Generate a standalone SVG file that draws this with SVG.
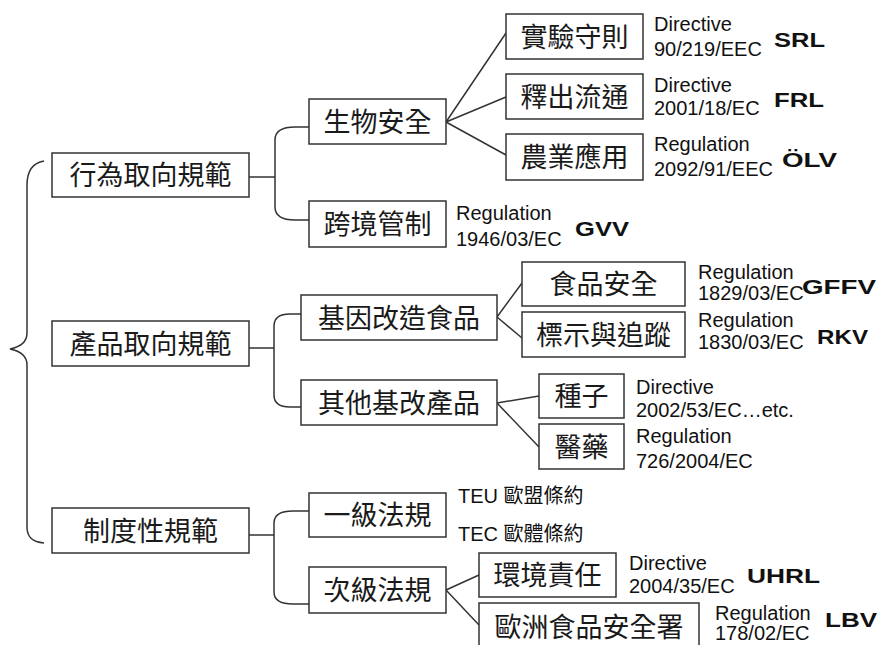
<svg xmlns="http://www.w3.org/2000/svg" width="882" height="645" viewBox="0 0 882 645">
<style>
.box rect{fill:#fff;stroke:#333;stroke-width:1.5}
.cjk{font-family:"Noto Sans CJK TC","Noto Sans CJK SC",sans-serif;font-size:27px;fill:#1a1a1a;text-anchor:middle}
.lat{font-family:"Liberation Sans",Arial,"Noto Sans CJK TC",sans-serif;font-size:20px;fill:#111}
.bold{font-family:"Liberation Sans",Arial,sans-serif;font-size:21px;font-weight:bold;fill:#111}
.conn path{fill:none;stroke:#333;stroke-width:1.5}
</style>
<rect width="882" height="645" fill="#fff"/>
<g id="connectors" class="conn">
<path d="M44,161 C32,163 27,172 27,185 L27,333 C27,342 20,347 10,349 C20,351 27,356 27,365 L27,527 C27,537 32,542 44,543"/>
<path d="M249,177 H275"/>
<path d="M309,127 H295 Q275,127 275,140 V207 Q275,220 295,220 H309"/>
<path d="M249,348 H274"/>
<path d="M301,314 H290 Q274,314 274,326 V395 Q274,407 290,407 H301"/>
<path d="M249,535 H274"/>
<path d="M309,511 H293 Q274,511 274,523 V592 Q274,604 293,604 H309"/>
<path d="M446,122 L506,33 M446,122 L506,97 M446,122 L506,155"/>
<path d="M497,317 L522,283 M497,317 L522,338"/>
<path d="M497,403 L539,396 M497,403 L539,447"/>
<path d="M446,590 L479,575 M446,590 L479,625"/>
</g>
<g id="n1" class="box"><rect x="52" y="153" width="197" height="44"/><text class="cjk" x="150.5" y="185">行為取向規範</text></g>
<g id="n2" class="box"><rect x="52" y="321" width="197" height="45"/><text class="cjk" x="150.5" y="353.5">產品取向規範</text></g>
<g id="n3" class="box"><rect x="52" y="508" width="197" height="45"/><text class="cjk" x="150.5" y="540.5">制度性規範</text></g>
<g id="n11" class="box"><rect x="309" y="99" width="137" height="45"/><text class="cjk" x="377.5" y="131.5">生物安全</text></g>
<g id="n12" class="box"><rect x="309" y="201" width="137" height="46"/><text class="cjk" x="377.5" y="234">跨境管制</text></g>
<g id="n21" class="box"><rect x="301" y="295" width="196" height="45"/><text class="cjk" x="399" y="327.5">基因改造食品</text></g>
<g id="n22" class="box"><rect x="301" y="380" width="196" height="45"/><text class="cjk" x="399" y="412.5">其他基改產品</text></g>
<g id="n31" class="box"><rect x="309" y="493" width="137" height="44"/><text class="cjk" x="377.5" y="525">一級法規</text></g>
<g id="n32" class="box"><rect x="309" y="567" width="137" height="46"/><text class="cjk" x="377.5" y="600">次級法規</text></g>
<g id="n111" class="box"><rect x="506" y="14" width="137" height="45"/><text class="cjk" x="574.5" y="46.5">實驗守則</text></g>
<g id="n112" class="box"><rect x="506" y="74" width="137" height="45"/><text class="cjk" x="574.5" y="106.5">釋出流通</text></g>
<g id="n113" class="box"><rect x="506" y="134" width="137" height="46"/><text class="cjk" x="574.5" y="167">農業應用</text></g>
<g id="n211" class="box"><rect x="522" y="262" width="163" height="44"/><text class="cjk" x="603.5" y="294">食品安全</text></g>
<g id="n212" class="box"><rect x="522" y="312" width="163" height="45"/><text class="cjk" x="603.5" y="344.5">標示與追蹤</text></g>
<g id="n221" class="box"><rect x="539" y="374" width="85" height="44"/><text class="cjk" x="581.5" y="406">種子</text></g>
<g id="n222" class="box"><rect x="539" y="424" width="85" height="45"/><text class="cjk" x="581.5" y="456.5">醫藥</text></g>
<g id="n321" class="box"><rect x="479" y="553" width="137" height="44"/><text class="cjk" x="547.5" y="585">環境責任</text></g>
<g id="n322" class="box"><rect x="479" y="603" width="220" height="48"/><text class="cjk" x="589" y="637">歐洲食品安全署</text></g>
<g id="labels">
<text class="lat" x="654" y="31">Directive</text><text class="lat" x="654" y="56">90/219/EEC</text><text class="bold" x="774" y="47" textLength="51" lengthAdjust="spacingAndGlyphs">SRL</text>
<text class="lat" x="654" y="92">Directive</text><text class="lat" x="654" y="115">2001/18/EC</text><text class="bold" x="774" y="107" textLength="50" lengthAdjust="spacingAndGlyphs">FRL</text>
<text class="lat" x="654" y="151">Regulation</text><text class="lat" x="654" y="176">2092/91/EEC</text><text class="bold" x="782" y="167" textLength="55" lengthAdjust="spacingAndGlyphs">ÖLV</text>
<text class="lat" x="456" y="220">Regulation</text><text class="lat" x="456" y="246">1946/03/EC</text><text class="bold" x="575" y="236" textLength="54" lengthAdjust="spacingAndGlyphs">GVV</text>
<text class="lat" x="698" y="279">Regulation</text><text class="lat" x="698" y="300">1829/03/EC</text><text class="bold" x="802" y="294" textLength="74" lengthAdjust="spacingAndGlyphs">GFFV</text>
<text class="lat" x="698" y="327">Regulation</text><text class="lat" x="698" y="349">1830/03/EC</text><text class="bold" x="817" y="344" textLength="51" lengthAdjust="spacingAndGlyphs">RKV</text>
<text class="lat" x="636" y="394">Directive</text><text class="lat" x="636" y="417">2002/53/EC…etc.</text>
<text class="lat" x="636" y="443">Regulation</text><text class="lat" x="636" y="468">726/2004/EC</text>
<text class="lat" x="458" y="503">TEU 歐盟條約</text><text class="lat" x="458" y="541">TEC 歐體條約</text>
<text class="lat" x="629" y="570">Directive</text><text class="lat" x="629" y="593">2004/35/EC</text><text class="bold" x="747" y="583" textLength="73" lengthAdjust="spacingAndGlyphs">UHRL</text>
<text class="lat" x="715" y="620">Regulation</text><text class="lat" x="715" y="640">178/02/EC</text><text class="bold" x="825" y="627" textLength="52" lengthAdjust="spacingAndGlyphs">LBV</text>
</g>
</svg>
